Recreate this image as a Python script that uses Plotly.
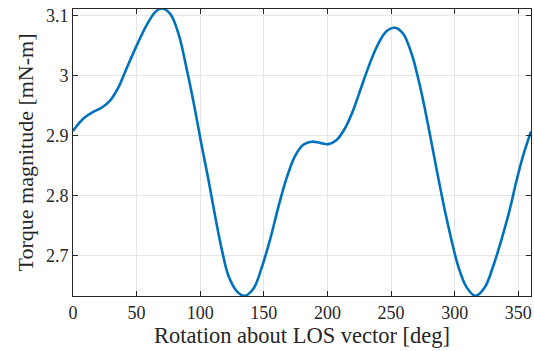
import plotly.graph_objects as go

rotation_deg = [0, 8.4, 16.2, 22.7, 29.3, 35.8, 41.1, 50.2, 58.1, 64.6, 69.8, 76.4, 82.9, 89.5, 95.3,
                100.3, 106.5, 111.7, 116.9, 122.1, 128.7, 134.7, 141.8, 148.3, 154.9, 161.4, 168.0,
                174.5, 181.0, 187.6, 194.1, 200.7, 207.2, 213.7, 220.3, 226.8, 233.4, 239.9, 246.4,
                253.0, 259.5, 266.1, 272.6, 279.1, 285.7, 292.2, 297.5, 302.7, 309.2, 316.3, 323.6,
                330.2, 336.7, 343.2, 348.5, 353.7, 360]
torque_mNm = [2.908, 2.929, 2.940, 2.947, 2.959, 2.981, 3.007, 3.051, 3.085, 3.106, 3.112, 3.103,
              3.070, 3.010, 2.950, 2.893, 2.826, 2.766, 2.711, 2.667, 2.641, 2.633, 2.645, 2.680,
              2.727, 2.781, 2.830, 2.866, 2.885, 2.890, 2.888, 2.886, 2.893, 2.912, 2.943, 2.982,
              3.021, 3.053, 3.074, 3.080, 3.070, 3.037, 2.984, 2.918, 2.845, 2.776, 2.726, 2.683,
              2.648, 2.633, 2.647, 2.682, 2.726, 2.776, 2.824, 2.866, 2.907]

x_ticks = [0, 50, 100, 150, 200, 250, 300, 350]
y_ticks = [2.7, 2.8, 2.9, 3.0, 3.1]
y_tick_labels = ["2.7", "2.8", "2.9", "3", "3.1"]

font_family = "Liberation Serif"
ink = "#262626"

fig = go.Figure()
fig.add_trace(go.Scatter(x=rotation_deg, y=torque_mNm, mode="lines",
                         line=dict(color="#0072BD", width=2.6, shape="spline", smoothing=1.0),
                         showlegend=False))

axis_common = dict(showline=True, linecolor=ink, linewidth=1, mirror="ticks",
                   ticks="inside", ticklen=5, tickcolor=ink,
                   showgrid=True, gridcolor="#e6e6e6", gridwidth=1, zeroline=False,
                   tickfont=dict(family=font_family, size=18, color=ink))

fig.update_xaxes(range=[0, 360], tickvals=x_ticks,
                 title=dict(text="Rotation about LOS vector [deg]",
                            font=dict(family=font_family, size=22.5, color=ink), standoff=4),
                 **axis_common)
fig.update_yaxes(range=[2.6328, 3.1112], tickvals=y_ticks, ticktext=y_tick_labels,
                 title=dict(text="Torque magnitude [mN-m]",
                            font=dict(family=font_family, size=22, color=ink), standoff=6),
                 **axis_common)

fig.update_layout(width=534, height=351, margin=dict(l=73, r=3, t=9, b=55),
                  paper_bgcolor="white", plot_bgcolor="white")

fig.write_html("out.html")
